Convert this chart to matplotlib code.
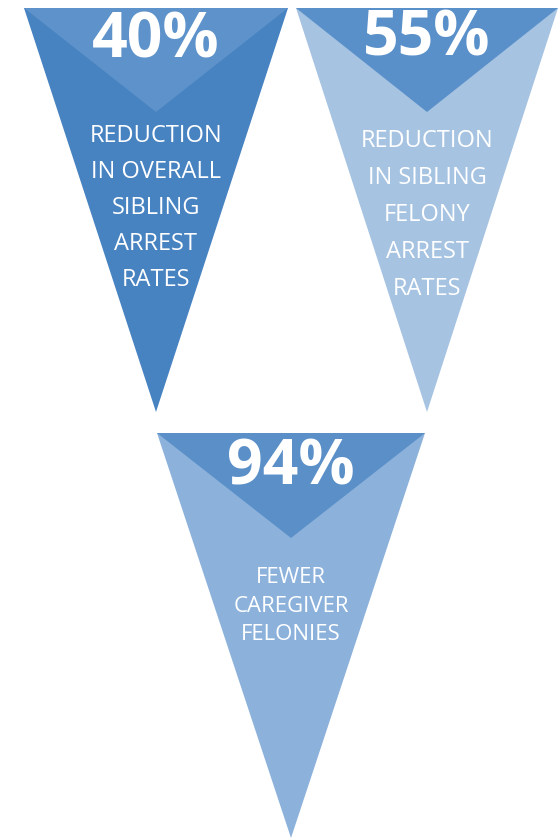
import matplotlib
matplotlib.use("Agg")
import matplotlib.pyplot as plt
from matplotlib.patches import Polygon

# Data
values = ["40%", "55%", "94%"]
labels = [
    "REDUCTION\nIN OVERALL\nSIBLING\nARREST\nRATES",
    "REDUCTION\nIN SIBLING\nFELONY\nARREST\nRATES",
    "FEWER\nCAREGIVER\nFELONIES",
]
outer_colors = ["#4782C1", "#A6C3E2", "#8CB2DC"]
inner_colors = ["#5D92CA", "#5A90C9", "#5A8FC8"]

# Layout (pixel space)
tri_left = [24, 296, 157]
tri_right = [288, 558, 425]
tri_top = [8, 8, 433]
tri_apex = [412, 412, 838]
inner_apex = [112, 112, 538]
value_y = [41, 39, 468]
label_y = [208, 215, 606]
label_size = [17, 17, 16]
label_spacing = [1.67, 1.71, 1.47]

fig = plt.figure(figsize=(5.6, 8.4), dpi=100)
ax = fig.add_axes([0, 0, 1, 1])
ax.set_xlim(0, 560)
ax.set_ylim(840, 0)
ax.axis("off")

for i in range(3):
    cx = (tri_left[i] + tri_right[i]) / 2
    ax.add_patch(Polygon([(tri_left[i], tri_top[i]), (tri_right[i], tri_top[i]),
                          (cx, tri_apex[i])], closed=True,
                         facecolor=outer_colors[i], edgecolor="none"))
    ax.add_patch(Polygon([(tri_left[i], tri_top[i]), (tri_right[i], tri_top[i]),
                          (cx, inner_apex[i])], closed=True,
                         facecolor=inner_colors[i], edgecolor="none"))
    ax.text(cx, value_y[i], values[i], color="white", fontsize=45,
            fontweight="bold", family="Open Sans", ha="center", va="center")
    ax.text(cx, label_y[i], labels[i], color="white", fontsize=label_size[i],
            family="Open Sans", ha="center", va="center",
            linespacing=label_spacing[i])

fig.savefig("out.png", dpi=100, facecolor="white")
